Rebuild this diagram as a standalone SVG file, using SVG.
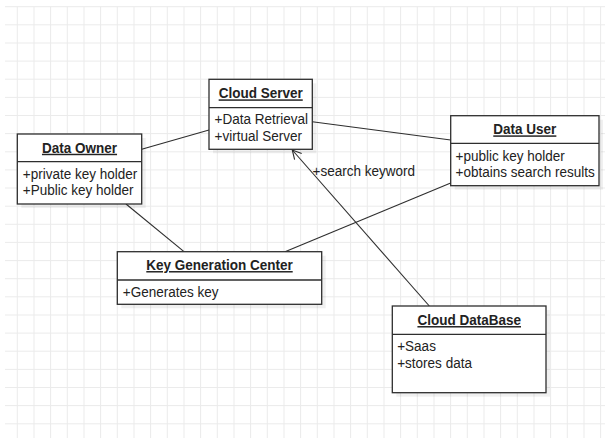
<svg xmlns="http://www.w3.org/2000/svg" width="605" height="438" viewBox="0 0 605 438">
<style>
.grid{stroke:#ebebeb;stroke-width:1;fill:none}
.box{fill:#fff;stroke:#2e2e2e;stroke-width:1.3}
.shadow{fill:#000;opacity:0.06}
.div{stroke:#2e2e2e;stroke-width:1.3}
.title{font-family:"Liberation Sans",Arial,sans-serif;font-size:14.7px;font-weight:bold;fill:#222;text-anchor:middle;text-decoration:underline}
.attr{font-family:"Liberation Sans",Arial,sans-serif;font-size:14.7px;fill:#222}
.edge{stroke:#2e2e2e;stroke-width:1.1;fill:none}
</style>
<rect width="605" height="438" fill="#fff"/>
<path class="grid" d="M17.3 6.7V438M34 6.7V438M50.6 6.7V438M67.3 6.7V438M84 6.7V438M100.6 6.7V438M117.3 6.7V438M134 6.7V438M150.6 6.7V438M167.3 6.7V438M184 6.7V438M200.6 6.7V438M217.3 6.7V438M234 6.7V438M250.6 6.7V438M267.3 6.7V438M284 6.7V438M300.6 6.7V438M317.3 6.7V438M334 6.7V438M350.6 6.7V438M367.3 6.7V438M384 6.7V438M400.6 6.7V438M417.3 6.7V438M434 6.7V438M450.6 6.7V438M467.3 6.7V438M484 6.7V438M500.6 6.7V438M517.3 6.7V438M534 6.7V438M550.6 6.7V438M567.3 6.7V438M584 6.7V438M600.6 6.7V438M5 6.7H605M5 24.8H605M5 43H605M5 61.1H605M5 79.2H605M5 97.4H605M5 115.5H605M5 133.6H605M5 151.8H605M5 169.9H605M5 188H605M5 206.2H605M5 224.3H605M5 242.4H605M5 260.6H605M5 278.7H605M5 296.8H605M5 315H605M5 333.1H605M5 351.2H605M5 369.4H605M5 387.5H605M5 405.6H605M5 423.8H605"/>
<g id="connectors">
<line class="edge" x1="141.7" y1="149.3" x2="209" y2="130"/>
<line class="edge" x1="312.3" y1="121.7" x2="450.7" y2="140"/>
<line class="edge" x1="126" y1="204" x2="184" y2="251.7"/>
<line class="edge" x1="285" y1="251.7" x2="450.7" y2="183"/>
<line class="edge" x1="429.3" y1="306" x2="292.3" y2="150"/>
<path class="edge" d="M294.6 159.7L292.3 150L301.7 153.5"/>
<text class="attr" transform="translate(312.5,176) scale(0.92,1)">+search keyword</text>
</g>
<g id="cloud-server">
<rect class="shadow" x="213" y="83.3" width="103.3" height="70"/>
<rect class="box" x="209" y="79.3" width="103.3" height="70"/>
<line class="div" x1="209" y1="107.7" x2="312.3" y2="107.7"/>
<text class="title" transform="translate(260.7,98.3) scale(0.92,1)">Cloud Server</text>
<text class="attr" transform="translate(214.5,124) scale(0.92,1)">+Data Retrieval</text>
<text class="attr" transform="translate(214.5,141) scale(0.92,1)">+virtual Server</text>
</g>
<g id="data-owner">
<rect class="shadow" x="21.3" y="138" width="124.4" height="70"/>
<rect class="box" x="17.3" y="134" width="124.4" height="70"/>
<line class="div" x1="17.3" y1="161.7" x2="141.7" y2="161.7"/>
<text class="title" transform="translate(79.5,152.7) scale(0.92,1)">Data Owner</text>
<text class="attr" transform="translate(22.8,179) scale(0.92,1)">+private key holder</text>
<text class="attr" transform="translate(22.8,195) scale(0.92,1)">+Public key holder</text>
</g>
<g id="data-user">
<rect class="shadow" x="454.7" y="119.7" width="148.3" height="70"/>
<rect class="box" x="450.7" y="115.7" width="148.3" height="70"/>
<line class="div" x1="450.7" y1="143.3" x2="599" y2="143.3"/>
<text class="title" transform="translate(524.8,134.3) scale(0.92,1)">Data User</text>
<text class="attr" transform="translate(455.5,161) scale(0.92,1)">+public key holder</text>
<text class="attr" transform="translate(455.5,176.7) scale(0.92,1)">+obtains search results</text>
</g>
<g id="key-generation-center">
<rect class="shadow" x="121.3" y="255.7" width="204.4" height="52.6"/>
<rect class="box" x="117.3" y="251.7" width="204.4" height="52.6"/>
<line class="div" x1="117.3" y1="280" x2="321.7" y2="280"/>
<text class="title" transform="translate(219.5,270) scale(0.92,1)">Key Generation Center</text>
<text class="attr" transform="translate(122.8,296.7) scale(0.92,1)">+Generates key</text>
</g>
<g id="cloud-database">
<rect class="shadow" x="396.3" y="310" width="153.7" height="86.7"/>
<rect class="box" x="392.3" y="306" width="153.7" height="86.7"/>
<line class="div" x1="392.3" y1="334.3" x2="546" y2="334.3"/>
<text class="title" transform="translate(469.2,325) scale(0.92,1)">Cloud DataBase</text>
<text class="attr" transform="translate(397.2,351) scale(0.92,1)">+Saas</text>
<text class="attr" transform="translate(397.2,368.3) scale(0.92,1)">+stores data</text>
</g>
</svg>
